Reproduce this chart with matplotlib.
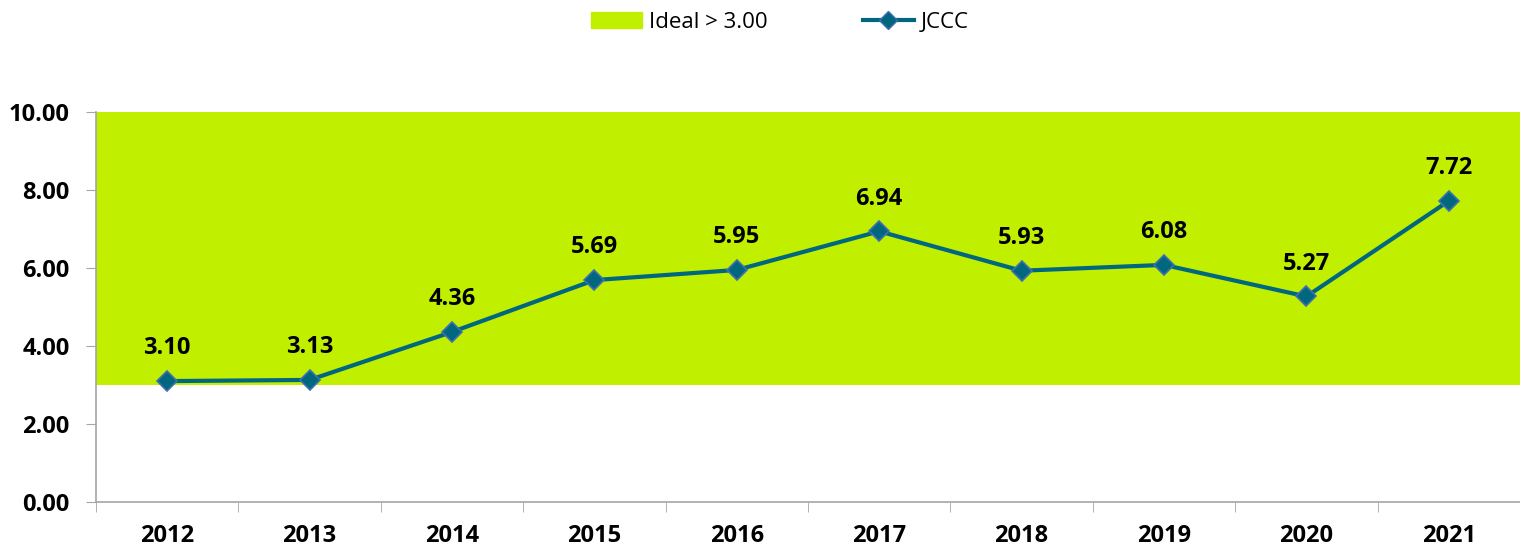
import matplotlib.pyplot as plt
from matplotlib.patches import Patch
from matplotlib.lines import Line2D
import numpy as np

years = ['2012', '2013', '2014', '2015', '2016', '2017', '2018', '2019', '2020', '2021']
jccc = [3.10, 3.13, 4.36, 5.69, 5.95, 6.94, 5.93, 6.08, 5.27, 7.72]
ideal_low = 3.00
ideal_high = 10.00

plt.rcParams['font.family'] = ['Open Sans', 'DejaVu Sans']

green = '#C0F000'
teal = '#00677F'
edge = '#3F6FB0'
axis_gray = '#A6A6A6'

fig = plt.figure(figsize=(15.2, 5.51), dpi=100)
ax = fig.add_axes([96 / 1520, 1 - 502 / 551, 1424 / 1520, 390 / 551])

x = np.arange(len(years))
ax.axhspan(ideal_low, ideal_high, color=green, lw=0, zorder=1)
ax.plot(x, jccc, color=teal, lw=3, marker='D', ms=10, mfc=teal, mec=edge,
        mew=1.2, zorder=3)

for xi, v in zip(x, jccc):
    ax.annotate(f'{v:.2f}', (xi, v), xytext=(0, 15), textcoords='offset points',
                ha='center', va='bottom', fontsize=17, fontweight='bold')

ax.set_xlim(-0.5, len(years) - 0.5)
ax.set_ylim(0, 10)
ax.set_yticks(np.arange(0, 10.1, 2))
ax.set_yticklabels([f'{t:.2f}' for t in np.arange(0, 10.1, 2)],
                   fontsize=17, fontweight='bold')
ax.set_xticks(x)
ax.set_xticklabels(years, fontsize=17, fontweight='bold')
ax.set_xticks(np.arange(-0.5, len(years)), minor=True)
ax.tick_params(axis='x', which='major', length=0, pad=16)
ax.tick_params(axis='x', which='minor', length=7, color=axis_gray, direction='out')
ax.tick_params(axis='y', length=7, color=axis_gray, pad=12)

for s in ['top', 'right']:
    ax.spines[s].set_visible(False)
for s in ['left', 'bottom']:
    ax.spines[s].set_color(axis_gray)
    ax.spines[s].set_linewidth(1.2)

handles = [Patch(color=green, label='Ideal > 3.00'),
           Line2D([0], [0], color=teal, lw=3, marker='D', ms=9, mfc=teal,
                  mec=edge, label='JCCC')]
fig.legend(handles=handles, loc='upper center', bbox_to_anchor=(0.513, 1.015),
           ncol=2, frameon=False, fontsize=16, columnspacing=4.3,
           handlelength=2.3, handletextpad=0.3)

fig.savefig('out.png', dpi=100)
